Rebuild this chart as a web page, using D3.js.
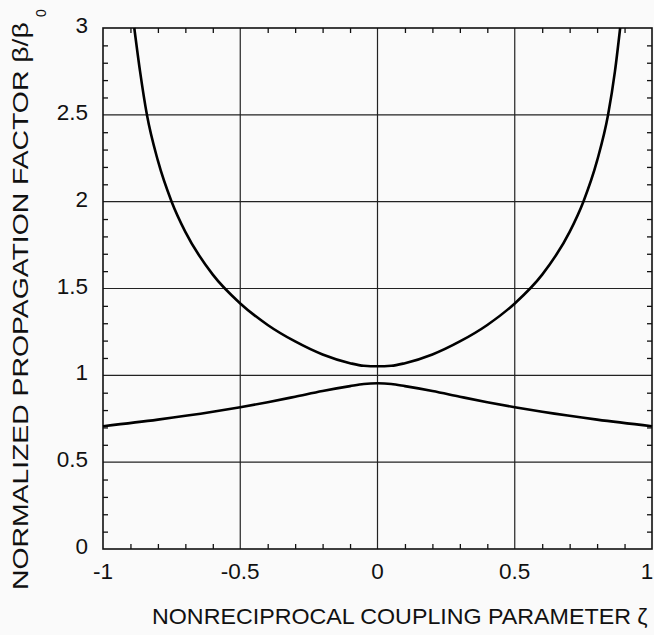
<!DOCTYPE html>
<html><head><meta charset="utf-8">
<script src="https://cdn.jsdelivr.net/npm/d3@7"></script>
<style>html,body{margin:0;padding:0;background:#fafafa;}svg{display:block;}</style>
</head><body>
<svg id="c" width="654" height="635"></svg>
<script>
// Data
const upperZeta = [-0.886,-0.865,-0.84,-0.8,-0.75,-0.7,-0.6,-0.5,-0.4,-0.3,-0.2,-0.1,-0.05,0,0.05,0.1,0.2,0.3,0.4,0.5,0.6,0.7,0.75,0.8,0.84,0.865,0.884];
const upperBeta = [3.0,2.75,2.5,2.236,2.0,1.826,1.58,1.414,1.29,1.195,1.12,1.07,1.055,1.052,1.055,1.07,1.12,1.195,1.29,1.414,1.58,1.826,2.0,2.236,2.5,2.75,3.0];
const lowerZeta = [-1,-0.8,-0.6,-0.5,-0.4,-0.3,-0.2,-0.1,-0.05,0,0.05,0.1,0.2,0.3,0.4,0.5,0.6,0.8,1];
const lowerBeta = [0.707,0.745,0.79,0.816,0.845,0.877,0.91,0.938,0.95,0.954,0.95,0.938,0.91,0.877,0.845,0.816,0.79,0.745,0.707];
const xMajor = [-1,-0.5,0,0.5,1];
const xLabels = ["-1","-0.5","0","0.5","1"];
const yMajor = [0,0.5,1,1.5,2,2.5,3];
const yLabels = ["0","0.5","1","1.5","2","2.5","3"];

const svg = d3.select("#c");
const L=103, R=652, T=28, B=549;
const x = d3.scaleLinear().domain([-1,1]).range([L,R]);
const y = d3.scaleLinear().domain([0,3]).range([B,T]);
const font = "'Liberation Sans', Arial, Helvetica, sans-serif";

// gridlines
const g = svg.append("g");
g.selectAll(".gx").data(xMajor.slice(1,-1)).enter().append("line")
 .attr("x1",d=>x(d)).attr("x2",d=>x(d)).attr("y1",T).attr("y2",B)
 .attr("stroke","#222").attr("stroke-width",1.2);
g.selectAll(".gy").data(yMajor.slice(1,-1)).enter().append("line")
 .attr("y1",d=>y(d)).attr("y2",d=>y(d)).attr("x1",L).attr("x2",R)
 .attr("stroke","#222").attr("stroke-width",1.2);

// minor ticks inward on all sides
const minorX = d3.range(-0.9,1.0,0.1).map(v=>+v.toFixed(2)).filter(v=>Math.abs(v*2-Math.round(v*2))>1e-6);
const minorY = d3.range(0.1,3.0,0.1).map(v=>+v.toFixed(2)).filter(v=>Math.abs(v*2-Math.round(v*2))>1e-6);
const tl = 5;
svg.append("g").call(d3.axisBottom(x).tickValues(minorX).tickSize(tl).tickFormat(""))
  .attr("transform",`translate(0,${B-tl})`).call(s=>s.select(".domain").remove());
svg.append("g").call(d3.axisTop(x).tickValues(minorX).tickSize(tl).tickFormat(""))
  .attr("transform",`translate(0,${T+tl})`).call(s=>s.select(".domain").remove());
svg.append("g").call(d3.axisLeft(y).tickValues(minorY).tickSize(tl).tickFormat(""))
  .attr("transform",`translate(${L+tl},0)`).call(s=>s.select(".domain").remove());
svg.append("g").call(d3.axisRight(y).tickValues(minorY).tickSize(tl).tickFormat(""))
  .attr("transform",`translate(${R-tl},0)`).call(s=>s.select(".domain").remove());
svg.selectAll(".tick line").attr("stroke","#111").attr("stroke-width",1.3);

// frame
svg.append("rect").attr("x",L).attr("y",T).attr("width",R-L).attr("height",B-T)
 .attr("fill","none").attr("stroke","#111").attr("stroke-width",1.6);

// tick labels
svg.append("g").selectAll("text").data(xMajor).enter().append("text")
 .attr("x",d=>Math.min(x(d),R-5)).attr("y",579).attr("text-anchor","middle")
 .attr("font-family",font).attr("font-size",22.5).attr("fill","#111")
 .text((d,i)=>xLabels[i]);
svg.append("g").selectAll("text").data(yMajor).enter().append("text")
 .attr("x",88).attr("y",d=>y(d)+5).attr("text-anchor","end")
 .attr("font-family",font).attr("font-size",22.5).attr("fill","#111")
 .text((d,i)=>yLabels[i]);

// curves
const line = d3.line().x(d=>x(d[0])).y(d=>y(d[1])).curve(d3.curveMonotoneX);
const up = upperZeta.map((z,i)=>[z,upperBeta[i]]);
const lo = lowerZeta.map((z,i)=>[z,lowerBeta[i]]);
svg.append("path").datum(up).attr("d",line).attr("fill","none").attr("stroke","#000").attr("stroke-width",2.6);
svg.append("path").datum(lo).attr("d",line).attr("fill","none").attr("stroke","#000").attr("stroke-width",2.6);

// axis titles (glyphs stretched horizontally to the reference length)
function stretched(parent, tx, ty, rot, txt, size, len){
  const gg = parent.append("g").attr("transform",`translate(${tx},${ty}) rotate(${rot})`);
  const t = gg.append("text").attr("font-family",font).attr("font-size",size).attr("fill","#111").text(txt);
  const w = t.node().getComputedTextLength();
  t.attr("transform",`scale(${len/w},1)`);
  return gg;
}
stretched(svg,152,624,0,"NONRECIPROCAL COUPLING PARAMETER ζ",21.5,496);
stretched(svg,28,590,-90,"NORMALIZED PROPAGATION FACTOR β/β",21.5,568);
svg.append("text").attr("transform","translate(46,13) rotate(-90)")
 .attr("text-anchor","middle").attr("font-family",font).attr("font-size",14).attr("fill","#111")
 .text("0");
</script>
</body></html>
